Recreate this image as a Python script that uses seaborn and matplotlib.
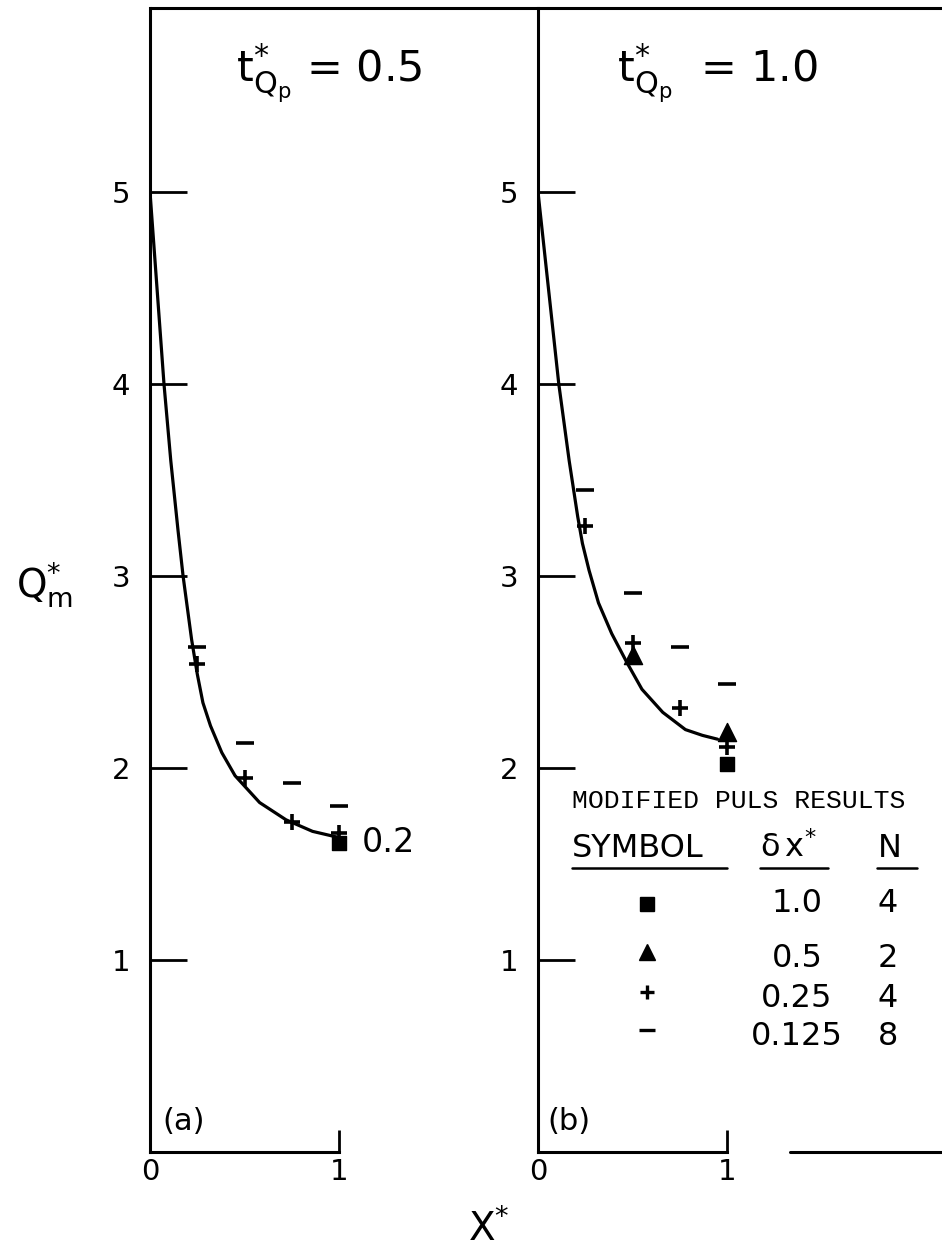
import matplotlib
matplotlib.use("Agg")
import matplotlib.pyplot as plt
import seaborn as sns
import pandas as pd
from matplotlib.lines import Line2D

# ---------------- data ----------------
# panel (a): t*_Qp = 0.5
curve_a_x = [0.0, 0.037, 0.074, 0.11, 0.148, 0.175, 0.22, 0.25, 0.28, 0.32, 0.38, 0.45, 0.58, 0.72, 0.86, 0.99]
curve_a_y = [5.0, 4.5, 4.0, 3.6, 3.24, 3.0, 2.67, 2.49, 2.34, 2.22, 2.08, 1.96, 1.82, 1.73, 1.67, 1.64]
a_dash_x = [0.25, 0.5, 0.75, 1.0]
a_dash_y = [2.63, 2.13, 1.92, 1.80]
a_plus_x = [0.25, 0.5, 0.75, 1.0]
a_plus_y = [2.54, 1.95, 1.72, 1.66]
a_sq_x = [1.0]
a_sq_y = [1.61]

# panel (b): t*_Qp = 1.0
curve_b_x = [0.0, 0.055, 0.11, 0.165, 0.21, 0.235, 0.27, 0.32, 0.39, 0.47, 0.55, 0.66, 0.78, 0.87, 0.95]
curve_b_y = [5.0, 4.5, 4.0, 3.6, 3.31, 3.17, 3.03, 2.86, 2.70, 2.55, 2.41, 2.29, 2.20, 2.17, 2.15]
b_dash_x = [0.25, 0.5, 0.75, 1.0]
b_dash_y = [3.45, 2.91, 2.63, 2.44]
b_plus_x = [0.25, 0.5, 0.75, 1.0]
b_plus_y = [3.26, 2.65, 2.31, 2.11]
b_tri_x = [0.5, 1.0]
b_tri_y = [2.59, 2.19]
b_sq_x = [1.0]
b_sq_y = [2.02]

y_ticks = [1, 2, 3, 4, 5]
y_ticklabels = ["1", "2", "3", "4", "5"]
x_ticks = [0, 1]
x_ticklabels = ["0", "1"]

legend_dx = ["1.0", "0.5", "0.25", "0.125"]
legend_n = ["4", "2", "4", "8"]

# ---------------- style ----------------
sns.set_theme(style="ticks")
plt.rcParams["font.family"] = ["DejaVu Sans"]
plt.rcParams["mathtext.fontset"] = "dejavusans"
plt.rcParams["mathtext.default"] = "regular"
plt.rcParams["text.color"] = "black"
plt.rcParams["xtick.color"] = "black"
plt.rcParams["ytick.color"] = "black"
plt.rcParams["xtick.labelcolor"] = "black"
plt.rcParams["ytick.labelcolor"] = "black"

W, H = 942, 1250
fig = plt.figure(figsize=(W / 100, H / 100), dpi=100)
fig.patch.set_facecolor("white")


def fx(px):
    return px / W


def fy(py):
    return 1 - py / H


Y0, TOP = 1152, 8
SX, SY = 189, 192
YMAX = (Y0 - TOP) / SY
LW = 2.2
FS_TICK = 21


def make_axes(x0px, xmax):
    ax = fig.add_axes([fx(x0px), fy(Y0), xmax * SX / W, (Y0 - TOP) / H])
    ax.set_facecolor("none")
    ax.set_xlim(0, xmax)
    ax.set_ylim(0, YMAX)
    for s in ["top", "right"]:
        ax.spines[s].set_visible(False)
    for s in ["left", "bottom"]:
        ax.spines[s].set_linewidth(LW)
        ax.spines[s].set_color("black")
    ax.spines["bottom"].set_bounds(0, 1)
    ax.set_yticks(y_ticks)
    ax.set_yticklabels(y_ticklabels)
    ax.set_xticks(x_ticks)
    ax.set_xticklabels(x_ticklabels)
    ax.tick_params(axis="y", direction="in", length=26.5, width=2.0, pad=14,
                   labelsize=FS_TICK, colors="black")
    ax.tick_params(axis="x", direction="in", length=15.5, width=2.0, pad=4,
                   labelsize=FS_TICK, colors="black")
    ax.set_xlabel("")
    ax.set_ylabel("")
    return ax


ax_a = make_axes(150, 1.15)
ax_b = make_axes(538, 2.12)


def draw_panel(ax, cx, cy, dash, plus, tri, sq):
    sns.lineplot(x=cx, y=cy, ax=ax, color="black", linewidth=2.3, sort=False,
                 estimator=None)
    sns.scatterplot(x=dash[0], y=dash[1], ax=ax, marker="_", s=150, color="black",
                    linewidth=2.6, clip_on=False, zorder=5)
    sns.scatterplot(x=plus[0], y=plus[1], ax=ax, marker="+", s=130, color="black",
                    linewidth=2.6, clip_on=False, zorder=5)
    if tri is not None:
        sns.scatterplot(x=tri[0], y=tri[1], ax=ax, marker="^", s=170, color="black",
                        edgecolor="black", linewidth=1, clip_on=False, zorder=5)
    sns.scatterplot(x=sq[0], y=sq[1], ax=ax, marker="s", s=110, color="black",
                    edgecolor="black", linewidth=1, clip_on=False, zorder=5)


draw_panel(ax_a, curve_a_x, curve_a_y, (a_dash_x, a_dash_y), (a_plus_x, a_plus_y),
           None, (a_sq_x, a_sq_y))
draw_panel(ax_b, curve_b_x, curve_b_y, (b_dash_x, b_dash_y), (b_plus_x, b_plus_y),
           (b_tri_x, b_tri_y), (b_sq_x, b_sq_y))

ax_a.text(1.12, 1.56, "0.2", fontsize=24, va="baseline", ha="left", color="black")

# ---------------- frame lines ----------------
fig.add_artist(Line2D([fx(150), fx(942)], [fy(TOP), fy(TOP)],
                      transform=fig.transFigure, color="black", lw=LW))
fig.add_artist(Line2D([fx(790), fx(942)], [fy(Y0), fy(Y0)],
                      transform=fig.transFigure, color="black", lw=LW))

# ---------------- titles and labels ----------------
fig.text(fx(236), fy(82), r"$t^{*}_{Q_{p}}$ = 0.5", fontsize=31, ha="left",
         va="baseline")
fig.text(fx(617), fy(82), r"$t^{*}_{Q_{p}}$  = 1.0", fontsize=31, ha="left",
         va="baseline")
fig.text(fx(16), fy(598), r"$Q^{*}_{m}$", fontsize=28, ha="left", va="baseline")
fig.text(fx(468), fy(1240), r"$X^{*}$", fontsize=28, ha="left", va="baseline")
fig.text(fx(162), fy(1121), "(a)", fontsize=22, ha="left", va="center")
fig.text(fx(547), fy(1121), "(b)", fontsize=22, ha="left", va="center")

# ---------------- legend table ----------------
fig.text(fx(572), fy(808), "MODIFIED PULS RESULTS", fontsize=19,
         family=["Liberation Mono", "DejaVu Sans Mono"], ha="left", va="baseline")
fig.text(fx(572), fy(857), "SYMBOL", fontsize=23, ha="left", va="baseline")
fig.text(fx(760), fy(857), r"$\delta\,x^{*}$", fontsize=23, ha="left", va="baseline")
fig.text(fx(878), fy(857), "N", fontsize=23, ha="left", va="baseline")
for x1, x2 in [(572, 727), (760, 828), (877, 917)]:
    fig.add_artist(Line2D([fx(x1), fx(x2)], [fy(868), fy(868)],
                          transform=fig.transFigure, color="black", lw=1.8))

row_y = [912, 967, 1007, 1045]
row_mark_y = [904, 952, 992, 1030]
row_markers = [("s", 10, 1), ("^", 11, 1), ("+", 10, 2.4), ("_", 11, 2.4)]
for i in range(4):
    m, ms, mew = row_markers[i]
    fig.add_artist(Line2D([fx(647)], [fy(row_mark_y[i])], transform=fig.transFigure,
                          marker=m, markersize=ms, markeredgewidth=mew,
                          color="black", linestyle="none"))
    fig.text(fx(797), fy(row_y[i]), legend_dx[i], fontsize=23, ha="center",
             va="baseline")
    fig.text(fx(888), fy(row_y[i]), legend_n[i], fontsize=23, ha="center",
             va="baseline")

fig.savefig("out.png", dpi=100, facecolor="white")
